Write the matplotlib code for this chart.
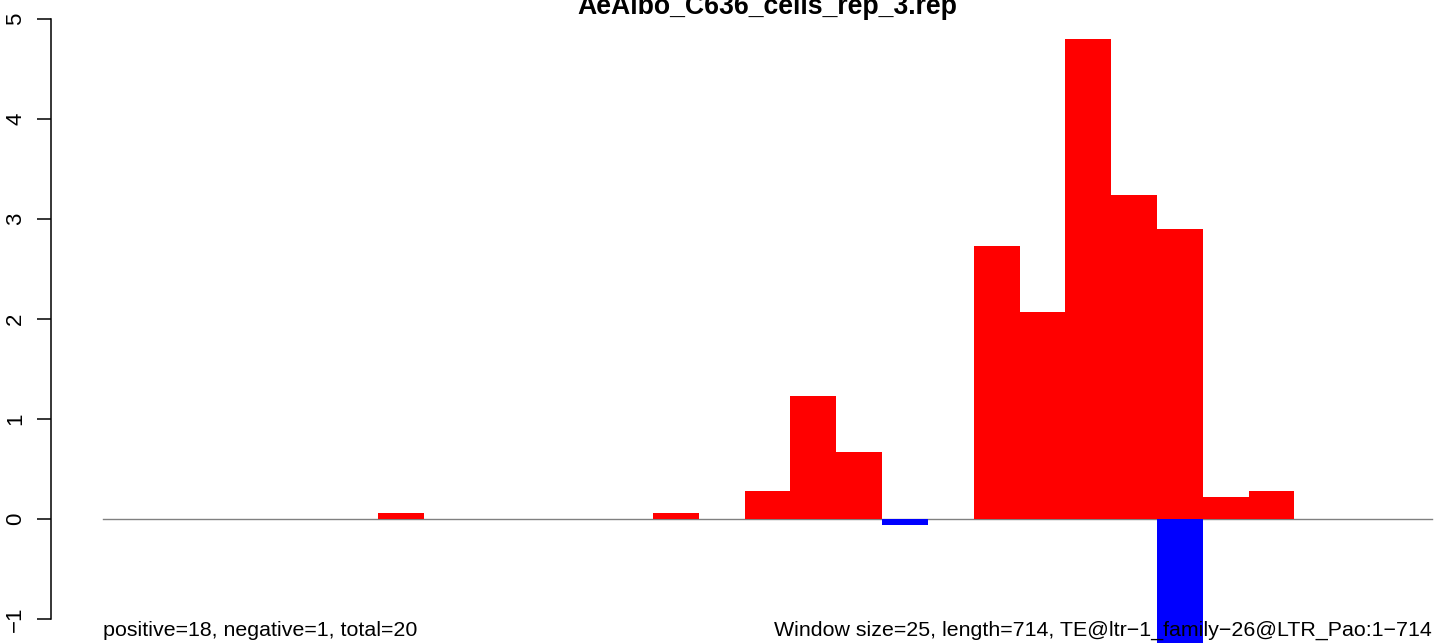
import matplotlib
matplotlib.use('Agg')
import matplotlib.pyplot as plt

plt.rcParams['font.family'] = ['Liberation Sans', 'DejaVu Sans']

# window data (25 bp windows over a 714 bp TE, 29 windows)
window = 25
n_windows = 29
pos_vals = [0, 0, 0, 0, 0, 0, 0.06, 0, 0, 0, 0, 0, 0.06, 0, 0.28, 1.23, 0.67, 0,
            0, 2.73, 2.07, 4.80, 3.24, 2.90, 0.22, 0.28, 0, 0, 0]
neg_vals = [0, 0, 0, 0, 0, 0, 0, 0, 0, 0, 0, 0, 0, 0, 0, 0, 0, -0.06,
            0, 0, 0, 0, 0, -1.30, 0, 0, 0, 0, 0]
title = "AeAlbo_C636_cells_rep_3.rep"
left_note = "positive=18, negative=1, total=20"
right_note = "Window size=25, length=714, TE@ltr\u22121_family\u221226@LTR_Pao:1\u2212714"

starts = [i * window for i in range(n_windows)]

fig = plt.figure(figsize=(14.44, 6.43), dpi=100)
ax = fig.add_axes([51 / 1444, 0, 1 - 51 / 1444, 1])

ax.bar(starts, pos_vals, width=window, align='edge', color='#FF0000', linewidth=0)
ax.bar(starts, neg_vals, width=window, align='edge', color='#0000FF', linewidth=0)
ax.plot([0, n_windows * window], [0, 0], color='#808080', lw=1, zorder=0.5)

ax.set_xlim(-28.4, 731.6)
ax.set_ylim(-1.24, 5.19)

for s in ['top', 'right', 'bottom']:
    ax.spines[s].set_visible(False)
ax.spines['left'].set_bounds(-1, 5)
ax.spines['left'].set_linewidth(1.1)
ax.set_xticks([])
ax.set_yticks(range(-1, 6))
ax.set_yticklabels(['\u22121', '0', '1', '2', '3', '4', '5'], rotation=90, va='center')
ax.tick_params(axis='y', length=10, width=1.1, pad=8, labelsize=16)

ax.text(n_windows * window / 2, 5.05, title, ha='center', va='baseline',
        fontsize=19.2, fontweight='bold')
ax.text(0, -1.17, left_note, ha='left', va='baseline', fontsize=15.4)
ax.text(n_windows * window, -1.17, right_note, ha='right', va='baseline', fontsize=15.4)

plt.savefig('out.png', dpi=100)
